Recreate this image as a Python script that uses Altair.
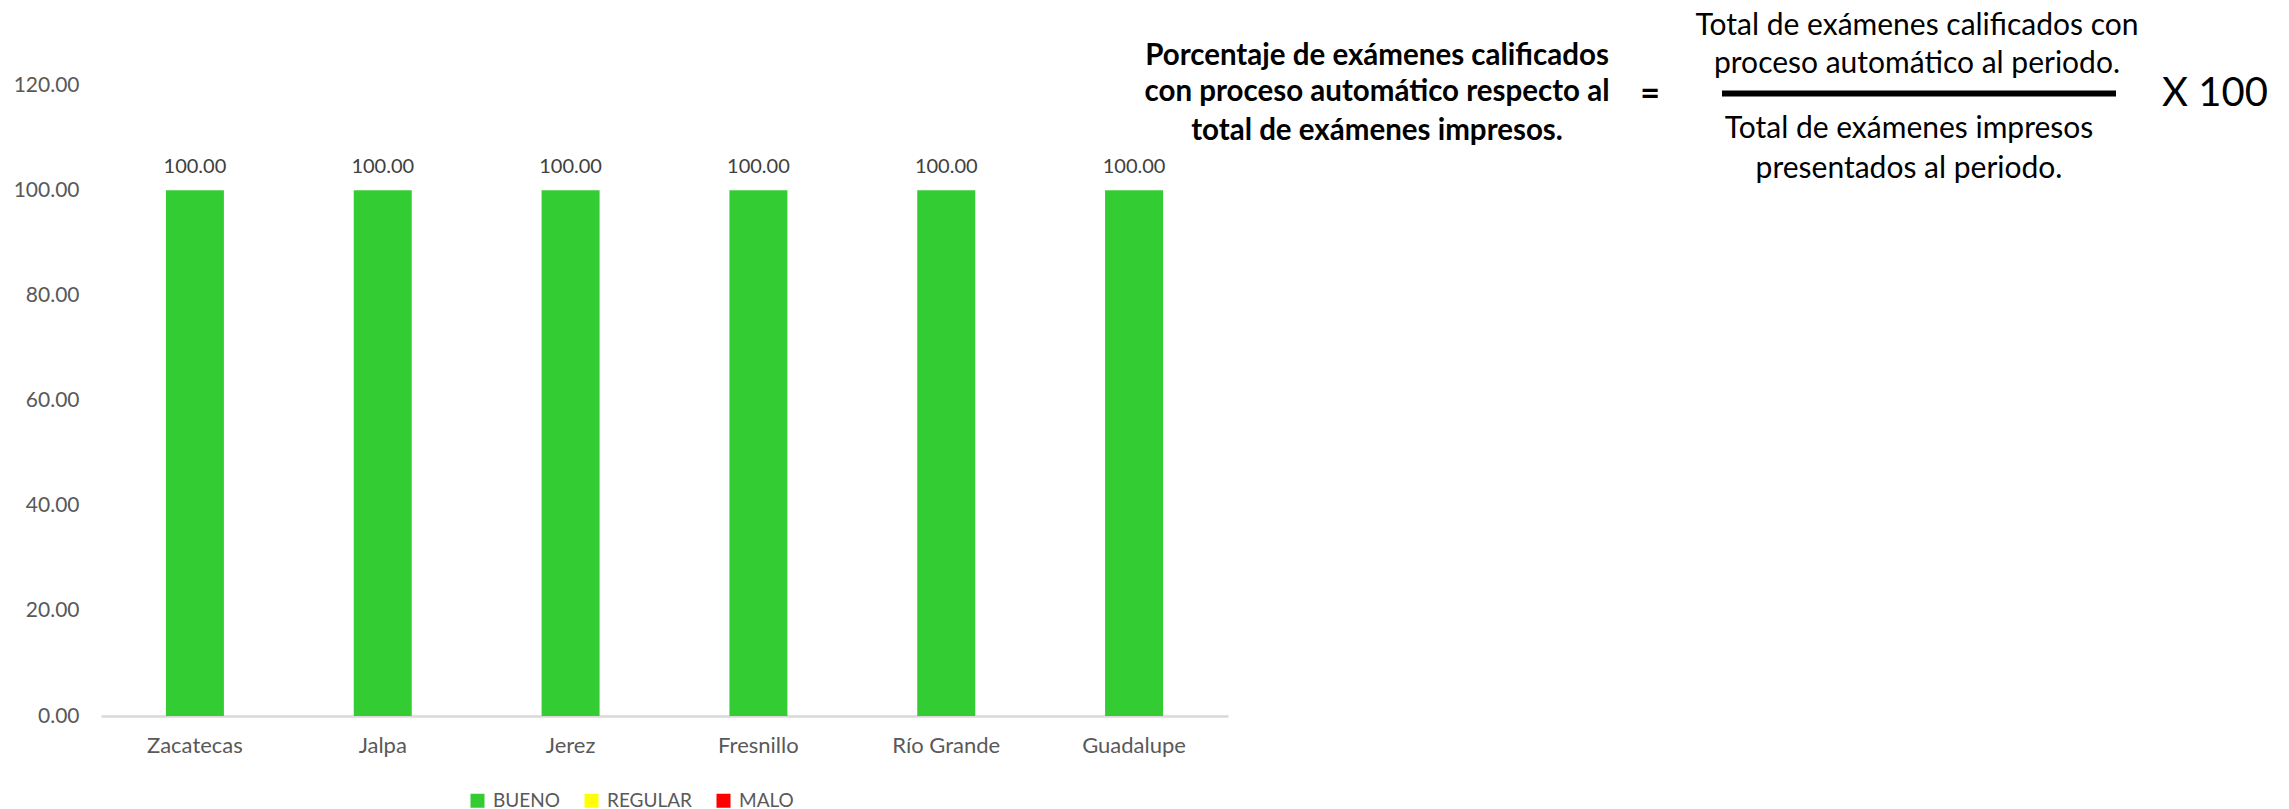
import altair as alt
import pandas as pd

categories = ["Zacatecas", "Jalpa", "Jerez", "Fresnillo", "Río Grande", "Guadalupe"]
values = [100.0, 100.0, 100.0, 100.0, 100.0, 100.0]
status = ["BUENO", "BUENO", "BUENO", "BUENO", "BUENO", "BUENO"]
legend_names = ["BUENO", "REGULAR", "MALO"]
legend_colors = ["#33cc33", "#ffff00", "#ff0000"]
y_ticks = [0, 20, 40, 60, 80, 100, 120]

lhs_lines = ["Porcentaje de exámenes calificados",
             "con proceso automático respecto al",
             "total de exámenes impresos."]
num_lines = ["Total de exámenes calificados con", "proceso automático al periodo."]
den_lines = ["Total de exámenes impresos", "presentados al periodo."]
multiplier = "X 100"

FONT = "Lato"
W, H = 1127, 631

df = pd.DataFrame({"cat": categories, "val": values, "status": status})

base = alt.Chart(df)

bars = base.mark_bar(size=58).encode(
    x=alt.X("cat:N", sort=categories, title=None,
            scale=alt.Scale(paddingInner=0, paddingOuter=0),
            axis=alt.Axis(labelAngle=0, labelFontSize=22, labelColor="#595959",
                          labelFont=FONT, labelPadding=19, ticks=False,
                          domainColor="#d9d9d9", domainWidth=2.5, grid=False)),
    y=alt.Y("val:Q", title=None,
            scale=alt.Scale(domain=[0, 120], nice=False),
            axis=alt.Axis(values=y_ticks, format=".2f", labelFontSize=21,
                          labelColor="#595959", labelFont=FONT, labelPadding=22,
                          ticks=False, domain=False, grid=False)),
    color=alt.Color("status:N",
                    scale=alt.Scale(domain=legend_names, range=legend_colors),
                    legend=alt.Legend(title=None, orient="none", direction="horizontal",
                                      legendX=367, legendY=706,
                                      symbolType="square", symbolSize=196,
                                      symbolStrokeWidth=0, labelFontSize=19,
                                      labelColor="#595959", labelFont=FONT,
                                      labelOffset=6, columnPadding=22)),
)

labels = base.mark_text(dy=-17, baseline="alphabetic", fontSize=20,
                        color="#404040", font=FONT).encode(
    x=alt.X("cat:N", sort=categories),
    y="val:Q",
    text=alt.Text("val:Q", format=".2f"),
)

layers = [bars, labels]

def txt(s, x, y, size, bold=False):
    return alt.Chart(pd.DataFrame({"t": [s]})).mark_text(
        fontSize=size, font=FONT, fontWeight="bold" if bold else "normal",
        color="#000000", align="center", baseline="middle"
    ).encode(text="t:N", x=alt.value(x), y=alt.value(y))

for s, yy in zip(lhs_lines, [-29, 7, 46]):
    layers.append(txt(s, 1276, yy, 29.5, bold=True))
layers.append(txt("=", 1549, 10, 34, bold=True))
for s, yy in zip(num_lines, [-59, -21]):
    layers.append(txt(s, 1816, yy, 30))
for s, yy in zip(den_lines, [44, 84]):
    layers.append(txt(s, 1808, yy, 30))
layers.append(txt(multiplier, 2114, 9, 40))

frac = alt.Chart(pd.DataFrame({"a": [0]})).mark_rule(color="#000000", strokeWidth=6).encode(
    x=alt.value(1621), x2=alt.value(2015), y=alt.value(8.5)
)
layers.append(frac)

chart = alt.layer(*layers).properties(
    width=W, height=H,
    padding={"left": 5, "top": 3, "right": 5, "bottom": 5},
).configure(background="white").configure_view(stroke=None)

chart.save("out.html", embed_options={"renderer": "svg", "actions": False})
